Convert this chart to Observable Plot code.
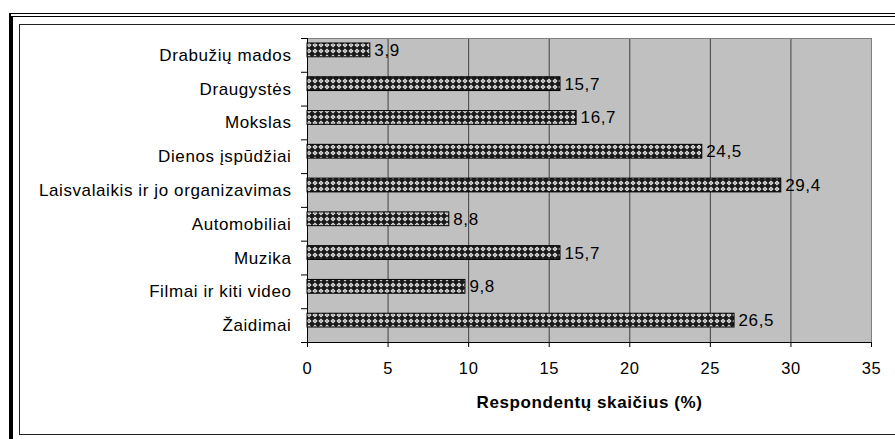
<!DOCTYPE html>
<html>
<head>
<meta charset="utf-8">
<script src="https://cdn.jsdelivr.net/npm/d3@7"></script>
<script src="https://cdn.jsdelivr.net/npm/@observablehq/plot@0.6"></script>
<style>
  html, body { margin: 0; padding: 0; background: #fff; width: 895px; height: 439px; overflow: hidden; }
  #wrap { position: relative; width: 895px; height: 439px; }
  #chart { position: absolute; left: 0; top: 0; }
  .frame { position: absolute; pointer-events: none; box-sizing: border-box; }
</style>
</head>
<body>
<div id="wrap">
  <div id="chart"></div>
  <div class="frame" style="left:9px; top:13px; width:900px; height:440px; border-top:1.5px solid #000; border-left:2px solid #000;"></div>
  <div class="frame" style="left:11px; top:16px; width:900px; height:440px; border-top:1.5px solid #000; border-left:2px solid #000;"></div>
  <div class="frame" style="left:19px; top:24px; width:900px; height:411px; border-top:1.5px solid #222; border-left:1.5px solid #222; border-bottom:1.5px solid #222;"></div>
</div>
<script>
const categories = [
  "Drabužių mados",
  "Draugystės",
  "Mokslas",
  "Dienos įspūdžiai",
  "Laisvalaikis ir jo organizavimas",
  "Automobiliai",
  "Muzika",
  "Filmai ir kiti video",
  "Žaidimai"
];
const values = [3.9, 15.7, 16.7, 24.5, 29.4, 8.8, 15.7, 9.8, 26.5];
const xTicks = [0, 5, 10, 15, 20, 25, 30, 35];
const xTitle = "Respondentų skaičius (%)";

const rows = categories.map((c, i) => ({category: c, value: values[i], pos: i}));
const fmt = v => String(v).replace(".", ",");
const innerGrid = xTicks.slice(1, -1);
const bandEdges = d3.range(categories.length + 1);
const bandCenters = categories.map((c, i) => i + 0.5);

const chart = Plot.plot({
  width: 895,
  height: 439,
  marginLeft: 307,
  marginRight: 24,
  marginTop: 38,
  marginBottom: 97,
  style: {fontFamily: "'Liberation Sans', Arial, sans-serif", fontSize: "17px", letterSpacing: "0.6px", background: "transparent", color: "#000"},
  x: {domain: [xTicks[0], xTicks[xTicks.length - 1]], label: null},
  y: {domain: [0, categories.length], reverse: true, label: null},
  marks: [
    Plot.frame({fill: "#c0c0c0", stroke: null}),
    Plot.ruleX(innerGrid, {stroke: "#404040", strokeWidth: 1}),
    Plot.frame({stroke: "#808080", fill: null}),
    Plot.ruleX([xTicks[0]], {stroke: "#000"}),
    Plot.ruleY([categories.length], {stroke: "#000"}),
    Plot.rect(rows, {
      x1: d => 0, x2: "value",
      y1: "pos", y2: d => d.pos + 1,
      insetTop: 5, insetBottom: 15,
      fill: "url(#xhatch)", stroke: "#000", strokeWidth: 1
    }),
    Plot.text(rows, {
      x: "value", y: d => d.pos + 0.5, text: d => fmt(d.value),
      textAnchor: "start", dx: 4, dy: -5, fontSize: 17, fill: "#000"
    }),
    Plot.axisY(bandCenters, {tickSize: 0, tickPadding: 16, tickFormat: t => categories[Math.round(t - 0.5)], fontSize: 17, label: null, fill: "#000"}),
    Plot.axisY(bandEdges, {tickSize: 6, tickFormat: () => "", label: null, stroke: "#000"}),
    Plot.axisX(xTicks, {tickSize: 5, tickPadding: 15, fontSize: 16.5, label: null, stroke: "#000", fill: "#000"}),
    Plot.text([xTitle], {frameAnchor: "bottom", dy: 65, fontWeight: "bold", fontSize: 17, fill: "#000", letterSpacing: "0.75px"})
  ]
});

const ns = "http://www.w3.org/2000/svg";
const defs = document.createElementNS(ns, "defs");
defs.innerHTML = `
  <pattern id="xhatch" width="6" height="6" patternUnits="userSpaceOnUse">
    <rect width="6" height="6" fill="#1a1a1a"/>
    <path d="M3 0.4 L5.6 3 L3 5.6 L0.4 3 Z" fill="#e6e6e6"/>
    <rect x="2.5" y="2.5" width="1" height="1" fill="#222"/>
  </pattern>`;
chart.insertBefore(defs, chart.firstChild);
document.getElementById("chart").appendChild(chart);
</script>
</body>
</html>
